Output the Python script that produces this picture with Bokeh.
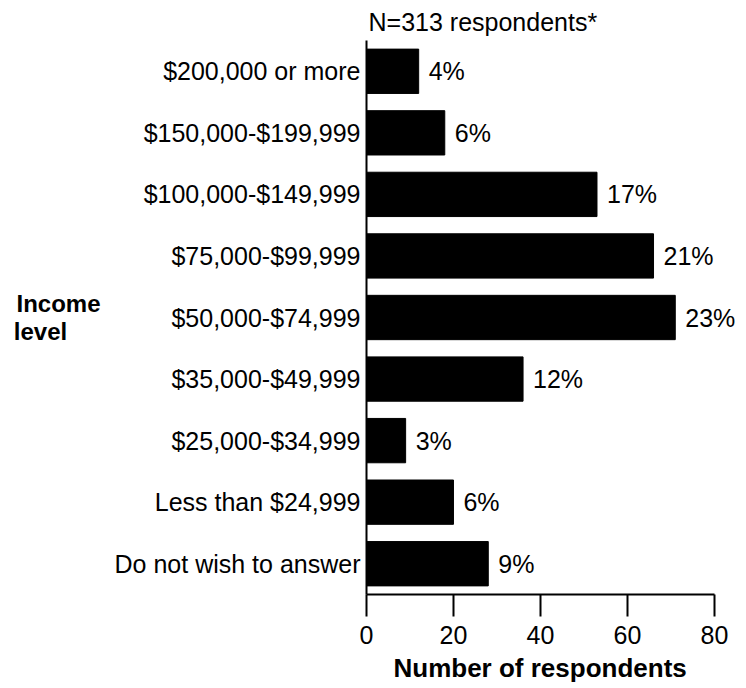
from bokeh.plotting import figure
from bokeh.models import ColumnDataSource, LabelSet, FactorRange, Range1d, FixedTicker, Title
from bokeh.core.properties import value
from bokeh.embed import file_html
from bokeh.resources import INLINE

# ---- data (top to bottom as shown) ----
categories = ["$200,000 or more", "$150,000-$199,999", "$100,000-$149,999",
              "$75,000-$99,999", "$50,000-$74,999", "$35,000-$49,999",
              "$25,000-$34,999", "Less than $24,999", "Do not wish to answer"]
counts = [12, 18, 53, 66, 71, 36, 9, 20, 28]
percent_labels = ["4%", "6%", "17%", "21%", "23%", "12%", "3%", "6%", "9%"]
x_ticks = [0, 20, 40, 60, 80]
title_text = "N=313 respondents*"
x_title = "Number of respondents"
y_title_lines = ["Income", "level"]

FONT = "Liberation Sans"
NBSP = "\u00a0"

src = ColumnDataSource(dict(cat=categories, count=counts, pct=percent_labels))

p = figure(width=744, height=688,
           y_range=FactorRange(factors=list(reversed(categories))),
           x_range=Range1d(0, 86),
           output_backend="svg", toolbar_location=None,
           min_border_left=366, min_border_right=4,
           min_border_top=40, min_border_bottom=94)

p.hbar(y="cat", left=0, right="count", height=0.72, source=src,
       fill_color="black", line_color="black")

p.xgrid.grid_line_color = None
p.ygrid.grid_line_color = None
p.outline_line_color = None
p.background_fill_color = "white"
p.border_fill_color = "white"

# title above the frame
p.title.text = title_text
p.title.align = "left"
p.title.offset = 2
p.title.standoff = 10
p.title.text_font = FONT
p.title.text_font_size = "25px"
p.title.text_font_style = "normal"
p.title.text_color = "black"

xa = p.xaxis[0]
xa.ticker = FixedTicker(ticks=x_ticks)
xa.bounds = (x_ticks[0], x_ticks[-1])
xa.axis_line_width = 2
xa.axis_line_color = "black"
xa.major_tick_line_width = 2
xa.major_tick_line_color = "black"
xa.major_tick_out = 22
xa.major_tick_in = 0
xa.minor_tick_out = 0
xa.minor_tick_in = 0
xa.major_label_standoff = 9
xa.major_label_text_font = FONT
xa.major_label_text_font_size = "25px"
xa.major_label_text_color = "black"

p.add_layout(Title(text=x_title, align="left", offset=27,
                   text_font=FONT, text_font_size="26px", text_font_style="bold",
                   text_color="black", standoff=9), "below")

ya = p.yaxis[0]
ya.axis_line_width = 2
ya.axis_line_color = "black"
ya.major_tick_out = 0
ya.major_tick_in = 0
ya.major_tick_line_color = None
ya.major_label_standoff = 6
ya.major_label_text_font = FONT
ya.major_label_text_font_size = "25px"
ya.major_label_text_color = "black"
ya.axis_label = y_title_lines[0] + "\n" + y_title_lines[1] + NBSP * 5
ya.axis_label_text_font = FONT
ya.axis_label_text_font_size = "24px"
ya.axis_label_text_font_style = "bold"
ya.axis_label_text_color = "black"
ya.axis_label_text_line_height = 1.05
ya.axis_label_standoff = 11
if "axis_label_orientation" in ya.properties():
    ya.axis_label_orientation = "horizontal"

labels = LabelSet(x="count", y="cat", text="pct", source=src, x_offset=10,
                  text_baseline="middle", text_align="left",
                  text_font=value(FONT), text_font_size=value("25px"),
                  text_color="black")
p.add_layout(labels)

open("out.html", "w").write(file_html(p, INLINE))
